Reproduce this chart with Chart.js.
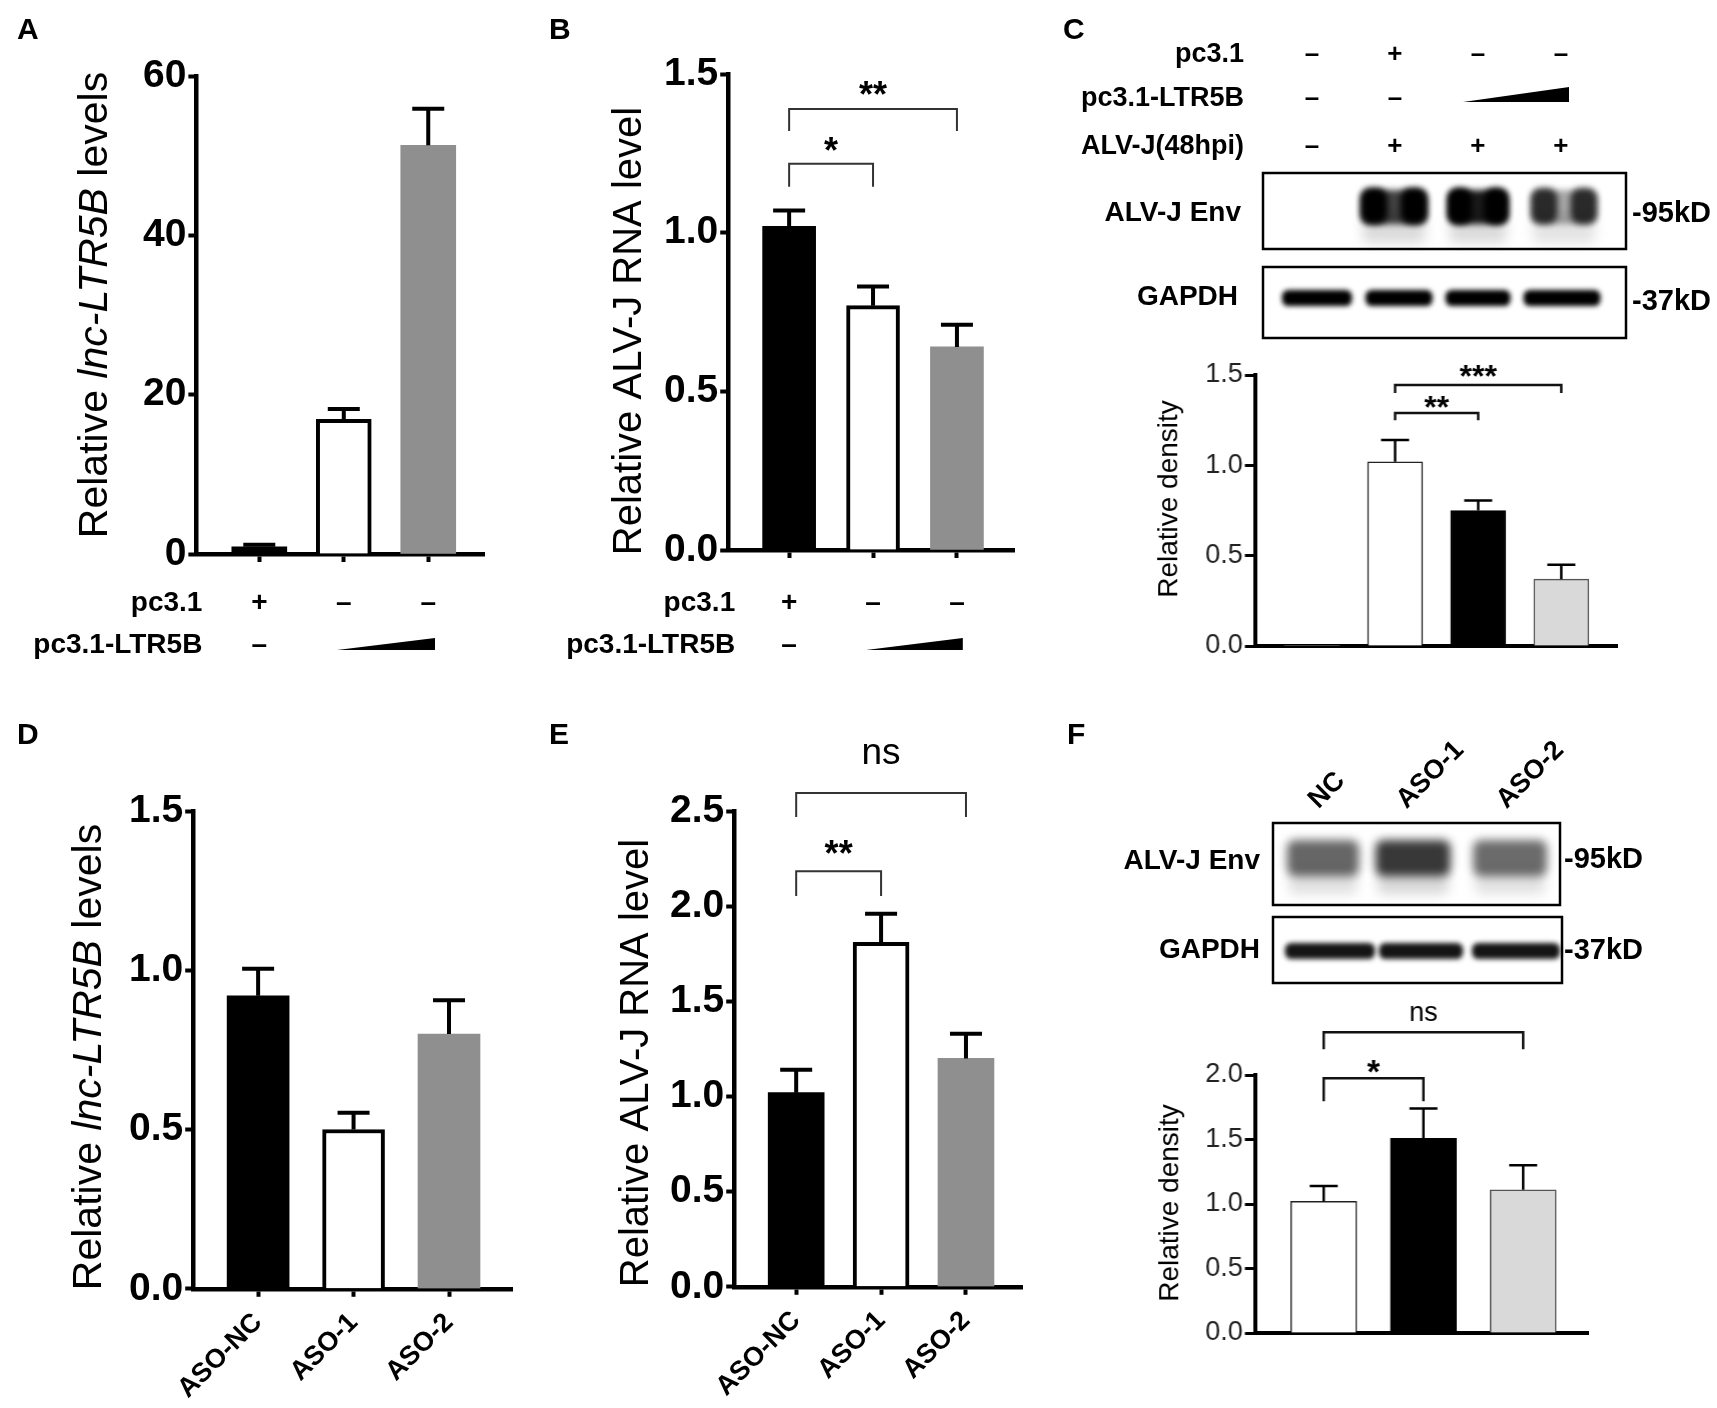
<!DOCTYPE html>
<html lang="en"><head>
<meta charset="utf-8">
<title>lnc-LTR5B and ALV-J replication</title>
<script src="https://cdn.jsdelivr.net/npm/chart.js@4"></script>
<style>
*{box-sizing:border-box;margin:0;padding:0}
body{width:1717px;height:1408px;background:#fff;position:relative;overflow:hidden;font-family:"Liberation Sans",Arial,sans-serif;color:#000}
canvas{position:absolute;left:0;top:0}
.t{position:absolute;font-weight:700;white-space:nowrap;line-height:1}
.r{transform:translate(-100%,-50%)}
.l{transform:translate(0,-50%)}
.c{transform:translate(-50%,-50%)}
.ramp{position:absolute;background:#000;clip-path:polygon(0 100%,100% 0,100% 100%)}
</style></head><body>
<canvas id="blots" width="1717" height="1408"></canvas>
<script>
const FONT = '"Liberation Sans", Arial, Helvetica, sans-serif';

// A: lnc-LTR5B after overexpression
const aPc31 = ['+', '–', '–'];
const aLtr5b = ['–', '', ''];
const aMean = [0.9, 16.9, 51.3];
const aSem = [0.25, 1.3, 4.6];
const aTicks = [0, 20, 40, 60];

// B: ALV-J RNA after overexpression
const bPc31 = ['+', '–', '–'];
const bLtr5b = ['–', '', ''];
const bMean = [1.02, 0.77, 0.64];
const bSem = [0.05, 0.06, 0.07];
const bTicks = [0, 0.5, 1.0, 1.5];
const bSig = [[1, 2, 1.217, 1.145, '*'], [1, 3, 1.39, 1.32, '**']];

// C: Env western blot density
const cPc31 = ['–', '+', '–', '–'];
const cLtr5b = ['–', '–', '', ''];
const cAlvj = ['–', '+', '+', '+'];
const cMean = [0, 1.02, 0.75, 0.37];
const cSem = [0, 0.12, 0.056, 0.08];
const cTicks = [0, 0.5, 1.0, 1.5];
const cSig = [[2, 3, 1.29, 1.25, '**'], [2, 4, 1.444, 1.40, '***']];
const cEnv = [0, 1, 1, 0.75];
const cEnvMid = [0, 0.75, 0.9, 0.35];

// D: lnc-LTR5B after knockdown
const dGroups = ['ASO-NC', 'ASO-1', 'ASO-2'];
const dMean = [0.92, 0.50, 0.80];
const dSem = [0.085, 0.053, 0.106];
const dTicks = [0, 0.5, 1.0, 1.5];

// E: ALV-J RNA after knockdown
const eGroups = ['ASO-NC', 'ASO-1', 'ASO-2'];
const eMean = [1.02, 1.81, 1.20];
const eSem = [0.12, 0.15, 0.13];
const eTicks = [0, 0.5, 1.0, 1.5, 2.0, 2.5];
const eSig = [[1, 2, 2.184, 2.054, '**'], [1, 3, 2.594, 2.468, 'ns']];

// F: Env western blot density after knockdown
const fLanes = ['NC', 'ASO-1', 'ASO-2'];
const fMean = [1.02, 1.51, 1.11];
const fSem = [0.12, 0.23, 0.19];
const fTicks = [0, 0.5, 1.0, 1.5, 2.0];
const fSig = [[1, 2, 1.974, 1.796, '*'], [1, 3, 2.331, 2.20, 'ns']];
const fEnv = [0.6, 0.78, 0.58];

const heavy = {font: {family: FONT, size: 39, weight: 'bold'}, tickColor: '#000', yTickLen: 8, yTickW: 4,
  axisW: 4.5, errW: 4, cap: 32, xTicks: true, dec: 1, brW: 2, brColor: '#333',
  starFont: 'bold 36px ' + FONT, nsFont: '37px ' + FONT};
const light = {font: {family: FONT, size: 27}, tickColor: '#222', yTickLen: 10, yTickW: 3,
  axisW: 4, errW: 2.5, cap: 28, xTicks: false, dec: 1, brW: 2.5, brColor: '#111',
  starFont: 'bold 32px ' + FONT, nsFont: '27px ' + FONT};

const panels = {
  A: {...heavy, area: {l: 196, t: 76, r: 484, b: 554}, xMin: 0.255, xMax: 3.66, thick: 55,
    mean: aMean, sem: aSem, yTicks: aTicks, dec: 0,
    fills: ['#000', '#fff', '#8f8f8f'], strokes: ['#000', '#000', '#8f8f8f'], bw: [0, 4, 0],
    title: {x: 95, y: 305, size: 41, segs: [['Relative ', 0], ['lnc-LTR5B', 1], [' levels', 0]]},
    rows: [['pc3.1', aPc31, 49], ['pc3.1-LTR5B', aLtr5b, 91]], rowDx: 6, ramp: [1.92, 3.08, 96, 12]},
  B: {...heavy, area: {l: 728, t: 74, r: 1014, b: 550}, xMin: 0.274, xMax: 3.68, thick: 53,
    mean: bMean, sem: bSem, yTicks: bTicks, sig: bSig, gaps: [20, 21],
    fills: ['#000', '#fff', '#8f8f8f'], strokes: ['#000', '#000', '#8f8f8f'], bw: [0, 4, 0],
    title: {x: 630, y: 331, size: 40, segs: [['Relative ALV-J RNA level', 0]]},
    rows: [['pc3.1', bPc31, 53], ['pc3.1-LTR5B', bLtr5b, 95]], rowDx: 7, ramp: [1.917, 3.07, 100, 12]},
  C: {...light, area: {l: 1255, t: 375, r: 1617, b: 646}, xMin: 0.313, xMax: 4.67, thick: 55,
    mean: cMean, sem: cSem, yTicks: cTicks, sig: cSig, gaps: [11, 14.5],
    fills: ['#fff', '#fff', '#000', '#d9d9d9'], strokes: ['#000', '#222', '#000', '#555'], bw: [0, 1.5, 1.5, 1.5],
    title: {x: 1170, y: 499, size: 28, segs: [['Relative density', 0]]}},
  D: {...heavy, area: {l: 193, t: 811, r: 512, b: 1289}, xMin: 0.32, xMax: 3.66, thick: 62,
    mean: dMean, sem: dSem, yTicks: dTicks, xLabels: dGroups,
    fills: ['#000', '#fff', '#8f8f8f'], strokes: ['#000', '#000', '#8f8f8f'], bw: [0, 4, 0],
    title: {x: 89, y: 1057, size: 41, segs: [['Relative ', 0], ['lnc-LTR5B', 1], [' levels', 0]]}},
  E: {...heavy, area: {l: 734, t: 811, r: 1022, b: 1287}, xMin: 0.27, xMax: 3.66, thick: 56,
    mean: eMean, sem: eSem, yTicks: eTicks, xLabels: eGroups, sig: eSig, gaps: [24, 39.5],
    fills: ['#000', '#fff', '#8f8f8f'], strokes: ['#000', '#000', '#8f8f8f'], bw: [0, 4, 0],
    title: {x: 637, y: 1063, size: 40, segs: [['Relative ALV-J RNA level', 0]]}},
  F: {...light, area: {l: 1255, t: 1075, r: 1588, b: 1333}, xMin: 0.31, xMax: 3.65, thick: 66,
    mean: fMean, sem: fSem, yTicks: fTicks, sig: fSig, gaps: [12, 19],
    starFont: 'bold 33px ' + FONT,
    fills: ['#fff', '#000', '#d9d9d9'], strokes: ['#222', '#000', '#555'], bw: [1.5, 1.5, 1.5],
    title: {x: 1171, y: 1203, size: 28, segs: [['Relative density', 0]]}}
};

function extras(p) {
  return {
    id: 'extras',
    afterDatasetsDraw(chart) {
      const {ctx, scales: {x, y}} = chart;
      ctx.save();
      ctx.strokeStyle = '#000'; ctx.lineWidth = p.errW;
      p.mean.forEach((m, i) => {
        if (!p.sem[i]) return;
        const px = x.getPixelForValue(i + 1);
        const y0 = y.getPixelForValue(m), y1 = y.getPixelForValue(m + p.sem[i]);
        ctx.beginPath();
        ctx.moveTo(px, y0); ctx.lineTo(px, y1);
        ctx.moveTo(px - p.cap / 2, y1); ctx.lineTo(px + p.cap / 2, y1);
        ctx.stroke();
      });
      ctx.restore();
    },
    afterDraw(chart) {
      const {ctx, chartArea: ca, scales: {x, y}} = chart;
      // y title, drawn by hand so part of it can be italic
      const t = p.title;
      ctx.save();
      ctx.fillStyle = '#000';
      ctx.translate(ca.left - (p.area.l - t.x), ca.top + (t.y - p.area.t));
      ctx.rotate(-Math.PI / 2);
      ctx.textBaseline = 'middle'; ctx.textAlign = 'left';
      const fnt = it => (it ? 'italic ' : '') + t.size + 'px ' + FONT;
      let tw = 0;
      t.segs.forEach(([s, it]) => { ctx.font = fnt(it); tw += ctx.measureText(s).width; });
      let pos = -tw / 2;
      t.segs.forEach(([s, it]) => { ctx.font = fnt(it); ctx.fillText(s, pos, 0); pos += ctx.measureText(s).width; });
      ctx.restore();

      ctx.save();
      ctx.fillStyle = '#000';
      // significance brackets
      (p.sig || []).forEach(([a, b, lv, leg, txt], k) => {
        const x0 = x.getPixelForValue(a), x1 = x.getPixelForValue(b);
        const yl = y.getPixelForValue(lv), yg = y.getPixelForValue(leg);
        ctx.strokeStyle = p.brColor; ctx.lineWidth = p.brW;
        ctx.beginPath();
        ctx.moveTo(x0, yg); ctx.lineTo(x0, yl); ctx.lineTo(x1, yl); ctx.lineTo(x1, yg);
        ctx.stroke();
        ctx.font = txt === 'ns' ? p.nsFont : p.starFont;
        ctx.textAlign = 'center'; ctx.textBaseline = 'alphabetic';
        const m = ctx.measureText(txt);
        ctx.fillText(txt, (x0 + x1) / 2, yl - p.gaps[k] + (m.actualBoundingBoxAscent - m.actualBoundingBoxDescent) / 2);
      });
      // treatment rows under the axis
      (p.rows || []).forEach(([label, signs, dy]) => {
        const yy = ca.bottom + dy;
        ctx.font = 'bold 28px ' + FONT; ctx.textBaseline = 'middle';
        ctx.textAlign = 'right';
        ctx.fillText(label, ca.left + p.rowDx, yy);
        ctx.textAlign = 'center';
        signs.forEach((s, i) => { if (s) ctx.fillText(s, x.getPixelForValue(i + 1), yy); });
      });
      if (p.ramp) {
        const [r0, r1, dy, h] = p.ramp;
        const xa = x.getPixelForValue(r0), xb = x.getPixelForValue(r1), yb = ca.bottom + dy;
        ctx.beginPath(); ctx.moveTo(xa, yb); ctx.lineTo(xb, yb); ctx.lineTo(xb, yb - h); ctx.closePath(); ctx.fill();
      }
      ctx.restore();
    }
  };
}

function config(p) {
  const xs = p.mean.map((_, i) => i + 1);
  return {
    type: 'bar',
    data: {datasets: [{
      data: xs.map((v, i) => ({x: v, y: p.mean[i]})),
      backgroundColor: p.fills, borderColor: p.strokes, borderWidth: p.bw,
      barThickness: p.thick, borderSkipped: 'bottom'
    }]},
    options: {
      responsive: false, maintainAspectRatio: false, animation: false, events: [],
      layout: {padding: {left: 140, right: 20, top: 110, bottom: 120}},
      plugins: {legend: {display: false}, tooltip: {enabled: false}},
      scales: {
        x: {
          type: 'linear', min: p.xMin, max: p.xMax, offset: false,
          afterBuildTicks: s => { s.ticks = xs.map(v => ({value: v})); },
          ticks: {display: !!p.xLabels, autoSkip: false, minRotation: 45, maxRotation: 45, padding: 10,
            font: {family: FONT, size: 27, weight: 'bold'}, color: '#000',
            callback: v => (p.xLabels ? p.xLabels[v - 1] : '')},
          grid: {display: true, offset: false, drawOnChartArea: false, drawTicks: p.xTicks,
            tickLength: 8, tickWidth: 4, tickColor: '#000'},
          border: {display: true, color: '#000', width: p.axisW}
        },
        y: {
          min: p.yTicks[0], max: p.yTicks[p.yTicks.length - 1],
          afterBuildTicks: s => { s.ticks = p.yTicks.map(v => ({value: v})); },
          ticks: {font: p.font, color: p.tickColor, padding: 2, callback: v => v.toFixed(p.dec)},
          grid: {display: true, drawOnChartArea: false, drawTicks: true,
            tickLength: p.yTickLen, tickWidth: p.yTickW, tickColor: '#000'},
          border: {display: true, color: '#000', width: p.axisW}
        }
      }
    },
    plugins: [extras(p)]
  };
}

function make(cv, p, w, h) {
  cv.width = w; cv.height = h;
  cv.style.width = w + 'px'; cv.style.height = h + 'px';
  return new Chart(cv, config(p));
}

// build once, measure the plot area, rebuild at the size that makes it match, then shift into place
function build(p) {
  const cv = document.createElement('canvas');
  document.body.appendChild(cv);
  let w = 700, h = 900;
  let chart = make(cv, p, w, h);
  const a = chart.chartArea;
  w += (p.area.r - p.area.l) - (a.right - a.left);
  h += (p.area.b - p.area.t) - (a.bottom - a.top);
  chart.destroy();
  chart = make(cv, p, w, h);
  const b = chart.chartArea;
  cv.style.left = (p.area.l - b.left) + 'px';
  cv.style.top = (p.area.t - b.top) + 'px';
  return chart;
}

function pageX(chart, v) {
  return parseFloat(chart.canvas.style.left) + chart.scales.x.getPixelForValue(v);
}

function addText(txt, x, y, cls, size, weight) {
  const d = document.createElement('div');
  d.className = 't ' + (cls || '');
  d.textContent = txt;
  d.style.left = x + 'px'; d.style.top = y + 'px';
  d.style.fontSize = size + 'px';
  if (weight) d.style.fontWeight = weight;
  document.body.appendChild(d);
  return d;
}

// western blot strips
function drawBlots() {
  const ctx = document.getElementById('blots').getContext('2d');
  function band(cx, cy, w, h, a, blur, rad) {
    if (a <= 0) return;
    ctx.save();
    ctx.filter = 'blur(' + blur + 'px)';
    ctx.fillStyle = 'rgba(0,0,0,' + Math.min(a, 1) + ')';
    ctx.beginPath(); ctx.roundRect(cx - w / 2, cy - h / 2, w, h, rad === undefined ? h / 2.5 : rad); ctx.fill();
    ctx.restore();
  }
  function box(x0, y0, x1, y1) {
    ctx.save(); ctx.lineWidth = 2.5; ctx.strokeStyle = '#000';
    ctx.strokeRect(x0, y0, x1 - x0, y1 - y0); ctx.restore();
  }
  // C: wide bands with darker ends, faint smear below
  [1312, 1394, 1478, 1564].forEach((cx, i) => {
    const w = i === 2 ? 60 : 66;
    band(cx, 228, w * 0.95, 30, cEnv[i] * 0.14, 6, 6);
    band(cx, 207, w, 34, cEnvMid[i], 3, 8);
    band(cx - w * 0.3, 206, w * 0.4, 36, cEnv[i], 3, 10);
    band(cx + w * 0.3, 206, w * 0.4, 36, cEnv[i], 3, 10);
  });
  [[1317, 70], [1399, 67], [1478, 65], [1562, 77]].forEach(([cx, w]) => {
    band(cx, 298, w, 16, 1, 2.5);
  });
  box(1263, 173, 1626, 249);
  box(1263, 267, 1626, 338);
  // F
  [[1323, 72], [1413, 75], [1510, 74]].forEach(([cx, w], i) => {
    band(cx, 882, w * 0.95, 24, fEnv[i] * 0.2, 6, 6);
    band(cx, 858, w, 36, fEnv[i], 5, 8);
  });
  [[1330, 90], [1421, 84], [1516, 88]].forEach(([cx, w]) => {
    band(cx, 951, w, 16, 0.92, 2.5);
  });
  box(1273, 823, 1560, 905);
  box(1273, 917, 1562, 983);
}

drawBlots();
const charts = {};
Object.keys(panels).forEach(k => { charts[k] = build(panels[k]); });

// panel letters
[['A', 17, 29], ['B', 549, 29], ['C', 1063, 29], ['D', 17, 734], ['E', 549, 734], ['F', 1067, 734]]
  .forEach(([s, x, y]) => addText(s, x, y, 'l', 30));

// C treatment rows, aligned on the lanes of the density chart
[['pc3.1', cPc31, 53], ['pc3.1-LTR5B', cLtr5b, 97], ['ALV-J(48hpi)', cAlvj, 145]].forEach(([lab, signs, yy]) => {
  addText(lab, 1244, yy, 'r', 27);
  signs.forEach((s, i) => { if (s) addText(s, pageX(charts.C, i + 1), yy, 'c', 26); });
});
const rc = document.createElement('div');
rc.className = 'ramp';
const rx0 = pageX(charts.C, 2.82), rx1 = pageX(charts.C, 4.1);
rc.style.left = rx0 + 'px'; rc.style.top = '87px';
rc.style.width = (rx1 - rx0) + 'px'; rc.style.height = '15px';
document.body.appendChild(rc);

// blot labels
addText('ALV-J Env', 1241, 212, 'r', 28);
addText('GAPDH', 1238, 296, 'r', 28);
addText('-95kD', 1632, 212, 'l', 29);
addText('-37kD', 1632, 300, 'l', 29);
addText('ALV-J Env', 1260, 860, 'r', 28);
addText('GAPDH', 1260, 949, 'r', 28);
addText('-95kD', 1564, 858, 'l', 29);
addText('-37kD', 1564, 949, 'l', 29);

// F lane names, slanted above the blot
fLanes.forEach((s, i) => {
  const d = addText(s, pageX(charts.F, i + 1) - (i === 0 ? 2 : 13), 813 - 27, '', 27);
  d.style.transformOrigin = '0 100%';
  d.style.transform = 'rotate(-45deg)';
});
</script>
</body></html>
